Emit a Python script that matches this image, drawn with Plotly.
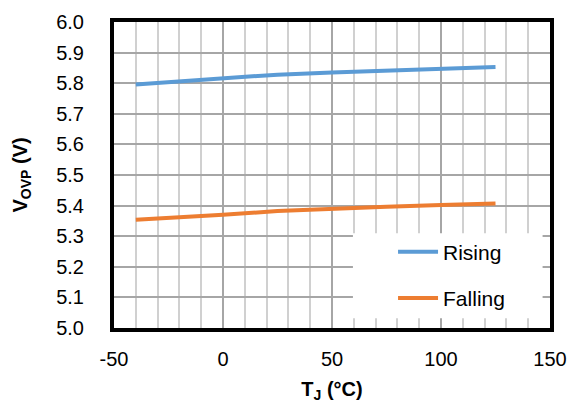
import plotly.graph_objects as go

temps = [-40, -20, 0, 25, 50, 75, 100, 125]
rising = [5.796, 5.806, 5.818, 5.828, 5.835, 5.841, 5.847, 5.853]
falling = [5.354, 5.361, 5.370, 5.382, 5.390, 5.396, 5.402, 5.407]
x_ticks = [-50, 0, 50, 100, 150]
y_ticks = [5.0, 5.1, 5.2, 5.3, 5.4, 5.5, 5.6, 5.7, 5.8, 5.9, 6.0]

FONT = "Liberation Sans, Arial, sans-serif"

fig = go.Figure()
fig.add_trace(go.Scatter(x=temps, y=rising, mode="lines", name="Rising",
                         legendgroup="r",
                         line=dict(color="#5B9BD5", width=4)))
fig.add_trace(go.Scatter(x=temps, y=falling, mode="lines", name="Falling",
                         legendgroup="f",
                         line=dict(color="#ED7D31", width=4)))

fig.add_shape(type="rect", xref="paper", yref="paper",
              x0=0.548, x1=0.983, y0=0.032, y1=0.31,
              fillcolor="white", line=dict(width=0), layer="above")

fig.update_layout(
    width=571, height=404,
    margin=dict(l=114, r=21, t=22, b=76),
    plot_bgcolor="white", paper_bgcolor="white",
    font=dict(family=FONT, size=20, color="black"),
    showlegend=True,
    legend=dict(x=0.64, y=0.315, xanchor="left", yanchor="top",
                bgcolor="rgba(0,0,0,0)", font=dict(size=21),
                tracegroupgap=16, traceorder="grouped",
                itemwidth=40),
    xaxis=dict(range=[-50, 150], tickvals=x_ticks, ticktext=[str(v) for v in x_ticks],
               showgrid=True, gridcolor="#a6a6a6", gridwidth=1.5,
               minor=dict(dtick=10, showgrid=True, gridcolor="#d0d0d0", gridwidth=1.5),
               showline=True, linecolor="black", linewidth=4, mirror=True,
               ticks="", ticklabelstandoff=10, zeroline=False, automargin=False,
               title=dict(text="<b>T<sub>J</sub> (°C)</b>", standoff=14,
                          font=dict(size=20))),
    yaxis=dict(range=[5.0, 6.0], tickvals=y_ticks, ticktext=[f"{v:.1f}" for v in y_ticks],
               showgrid=True, gridcolor="#a6a6a6", gridwidth=1.5,
               showline=True, linecolor="black", linewidth=4, mirror=True,
               ticks="", ticklabelstandoff=22, zeroline=False, automargin=False,
               title=dict(text="<b>V<sub>OVP</sub> (V)</b>", standoff=24,
                          font=dict(size=20))),
)

fig.write_html("out.html")
